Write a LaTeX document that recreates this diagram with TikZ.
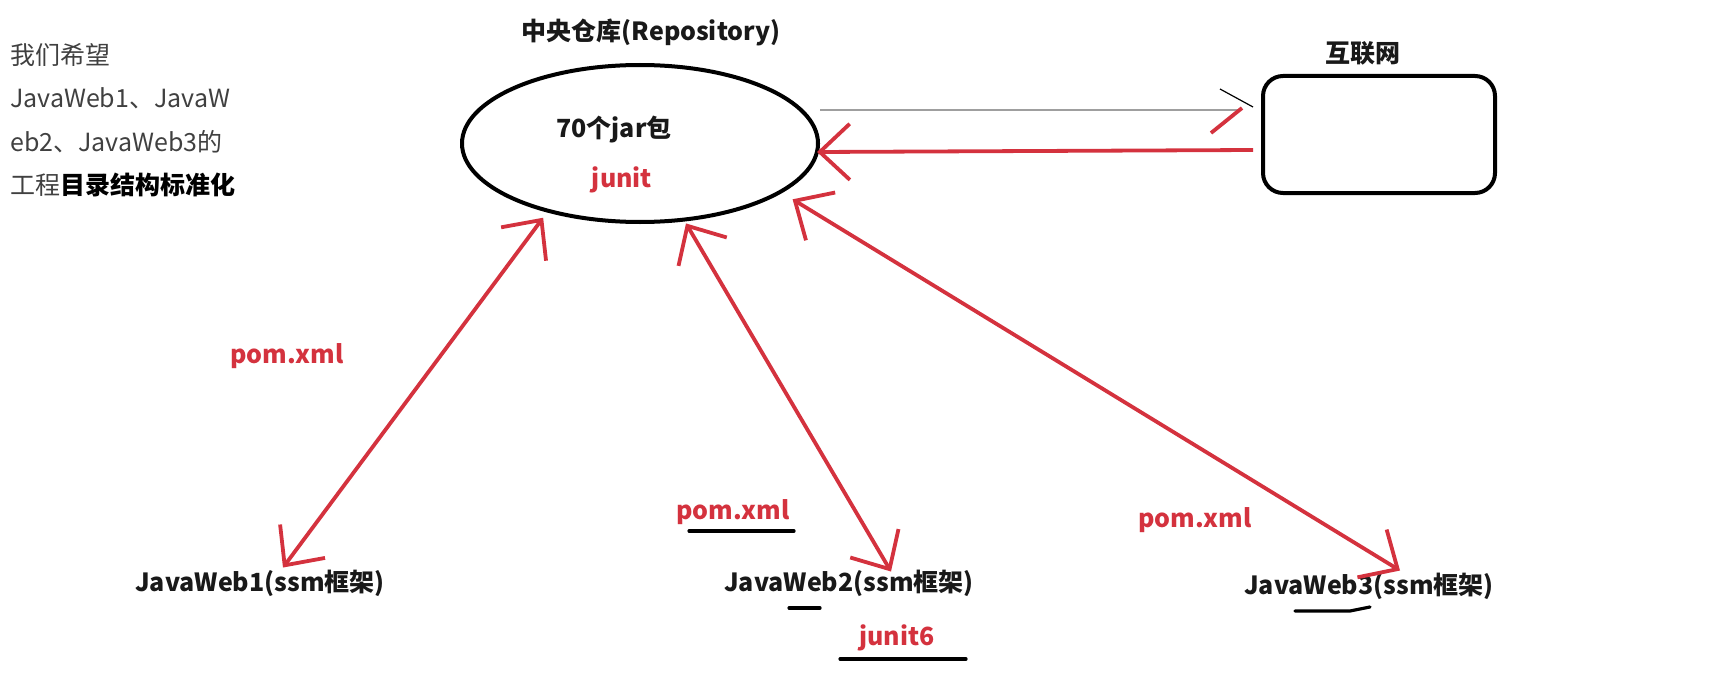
\documentclass[tikz,border=0pt]{standalone}
\usepackage{fontspec}
\setmainfont{Noto Sans CJK SC}
\usepackage{tikz}
\usetikzlibrary{arrows.meta, positioning, shapes.geometric, calc}
\definecolor{penred}{RGB}{212,50,62}
\definecolor{inkgray}{RGB}{64,64,64}

\begin{document}
\begin{tikzpicture}[x=1pt, y=-1pt,
        lbl/.style={font=\fontsize{25}{30}\selectfont\bfseries, text=black!90, inner sep=2pt},
        redlbl/.style={lbl, text=penred},
        pen/.style={draw=penred, line width=3.8pt},
        twoway/.style={pen, {Straight Barb[length=30pt,width=56pt]}-{Straight Barb[length=30pt,width=56pt]}},
        ink/.style={line width=3.2pt, line cap=round}]
            \useasboundingbox (0,0) rectangle (1728,674);

            % Draw repository and internet
            \node[draw, ellipse, line width=4pt, minimum width=356pt, minimum height=157pt, inner sep=0pt] (repo) at (640,143.5) {};
            \node[draw, rounded corners=20pt, line width=4pt, minimum width=232pt, minimum height=117pt] (net) at (1379,134.5) {};

            % Labels
            \node[anchor=west, align=left, inner sep=0pt, text=inkgray, font=\fontsize{25}{43.5}\selectfont] (intro) at (10,120)
                {我们希望\\JavaWeb1、JavaW\\eb2、JavaWeb3的\\工程\textbf{\color{black}目录结构标准化}};
            \node[lbl] (title) at (651,32) {中央仓库(Repository)};
            \node[lbl] (jars) at (614,130) {70个jar包};
            \node[redlbl] (junit) at (622,180) {junit};
            \node[lbl] (nettitle) at (1363,53) {互联网};

            \node[redlbl] (pomA) at (287,356) {pom.xml};
            \node[redlbl] (pomB) at (733,512) {pom.xml};
            \node[redlbl] (pomC) at (1195,520) {pom.xml};

            \node[lbl] (webA) at (260,583) {JavaWeb1(ssm框架)};
            \node[lbl] (webB) at (849,583) {JavaWeb2(ssm框架)};
            \node[lbl] (webC) at (1369,586) {JavaWeb3(ssm框架)};
            \node[redlbl] (junitB) at (897,638) {junit6};

            % Repository <-> projects
            \draw[twoway] ($(repo.217)+(-5,5)$) -- ($(webA.north)+(23,0)$);
            \draw[twoway] ($(repo.300)+(1,2)$) -- ($(webB.north)+(42,4)$);
            \draw[twoway] ($(repo.340)+(13,5)$) -- ($(webC.north)+(31,0)$);

            % Internet -> repository
            \draw[pen, -{Straight Barb[length=30pt,width=56pt]}] ($(net.west)+(-8,15.5)$) -- ($(repo.east)+(-3,8.5)$);

            % Request line
            \coordinate (reqEnd) at ($(net.west)+(-20,-24.5)$);
            \draw[gray!75, line width=2.4pt] (reqEnd -| repo.east) -- (reqEnd);
            \draw[line width=1.2pt] ($(reqEnd)+(-21,-21)$) -- ($(reqEnd)+(12,-3)$);
            \draw[pen] ($(reqEnd)+(-30,23)$) -- ($(reqEnd)+(1,-2)$);

            % Underlines
            \draw[ink] (689,531) -- (794,531);
            \draw[ink] (789,608) -- (820,608);
            \draw[ink] (840,659) -- (966,659);
            \draw[ink] (1295,611) -- (1350,611) -- (1370,607);
        \end{tikzpicture}
\end{document}
